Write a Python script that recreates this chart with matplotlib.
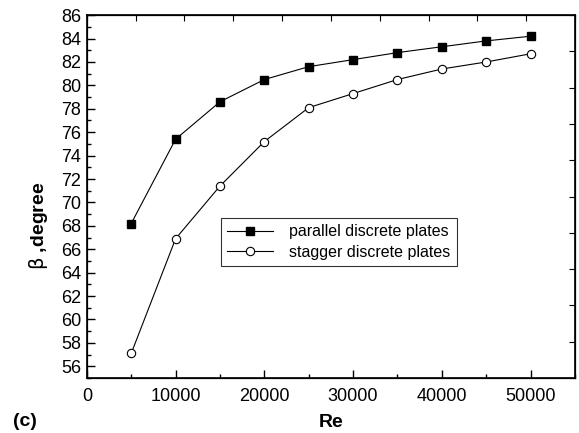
import matplotlib
matplotlib.use("Agg")
import matplotlib.pyplot as plt
import numpy as np

re_vals = [5000, 10000, 15000, 20000, 25000, 30000, 35000, 40000, 45000, 50000]
parallel = [68.2, 75.4, 78.6, 80.5, 81.6, 82.2, 82.8, 83.3, 83.8, 84.2]
stagger = [57.1, 66.9, 71.4, 75.2, 78.1, 79.3, 80.5, 81.4, 82.0, 82.7]
x_ticks = [0, 10000, 20000, 30000, 40000, 50000]
y_ticks = list(range(56, 87, 2))

plt.rcParams['font.family'] = ['Liberation Sans', 'DejaVu Sans']

fig = plt.figure(figsize=(5.79, 4.33), dpi=100)
ax = fig.add_axes([0.150, 0.127, 0.843, 0.838])

ax.plot(re_vals, parallel, '-s', color='black', lw=0.8, ms=5.5,
        mfc='black', mec='black', label='parallel discrete plates')
ax.plot(re_vals, stagger, '-o', color='black', lw=0.8, ms=6,
        mfc='white', mec='black', mew=0.8, label='stagger discrete plates')

ax.set_xlim(0, 55000)
ax.set_ylim(55, 86)
ax.set_xticks(x_ticks)
ax.set_xticks(np.arange(0, 55001, 5000), minor=True)
ax.set_yticks(y_ticks)
ax.set_yticks(np.arange(55, 86.1, 1), minor=True)
ax.tick_params(axis='both', which='major', direction='in', length=6, width=1,
               labelsize=13, top=False, right=False)
ax.tick_params(axis='both', which='minor', direction='in', length=3, width=1,
               top=False, right=False)
ax.tick_params(axis='x', pad=7)
ax.tick_params(axis='y', pad=4)
for s in ax.spines.values():
    s.set_linewidth(1.2)

# top and right ticks dividing range into ten parts
axt = ax.twiny()
axt.set_xlim(0, 55000)
axt.set_xticks(np.linspace(0, 55000, 11))
axt.tick_params(axis='x', direction='in', length=4, labeltop=False)
axr = ax.twinx()
axr.set_ylim(55, 86)
axr.set_yticks(np.linspace(55, 86, 11))
axr.tick_params(axis='y', direction='in', length=4, labelright=False)

ax.set_xlabel('Re', fontsize=14, fontweight='bold')
ax.xaxis.set_label_coords(0.5, -0.098)
ax.set_ylabel(r'$\mathrm{\beta}$ ,degree', fontsize=14, fontweight='bold')
ax.yaxis.set_label_coords(-0.076, 0.42)

leg = ax.legend(loc='upper left', bbox_to_anchor=(0.258, 0.463), fontsize=11.5,
                frameon=True, fancybox=False, edgecolor='black', handlelength=2.9,
                borderpad=0.4, labelspacing=0.35, handletextpad=1.0)
leg.get_frame().set_linewidth(0.8)

fig.text(0.022, 0.016, '(c)', fontsize=14, fontweight='bold')

fig.savefig('out.png', dpi=100)
